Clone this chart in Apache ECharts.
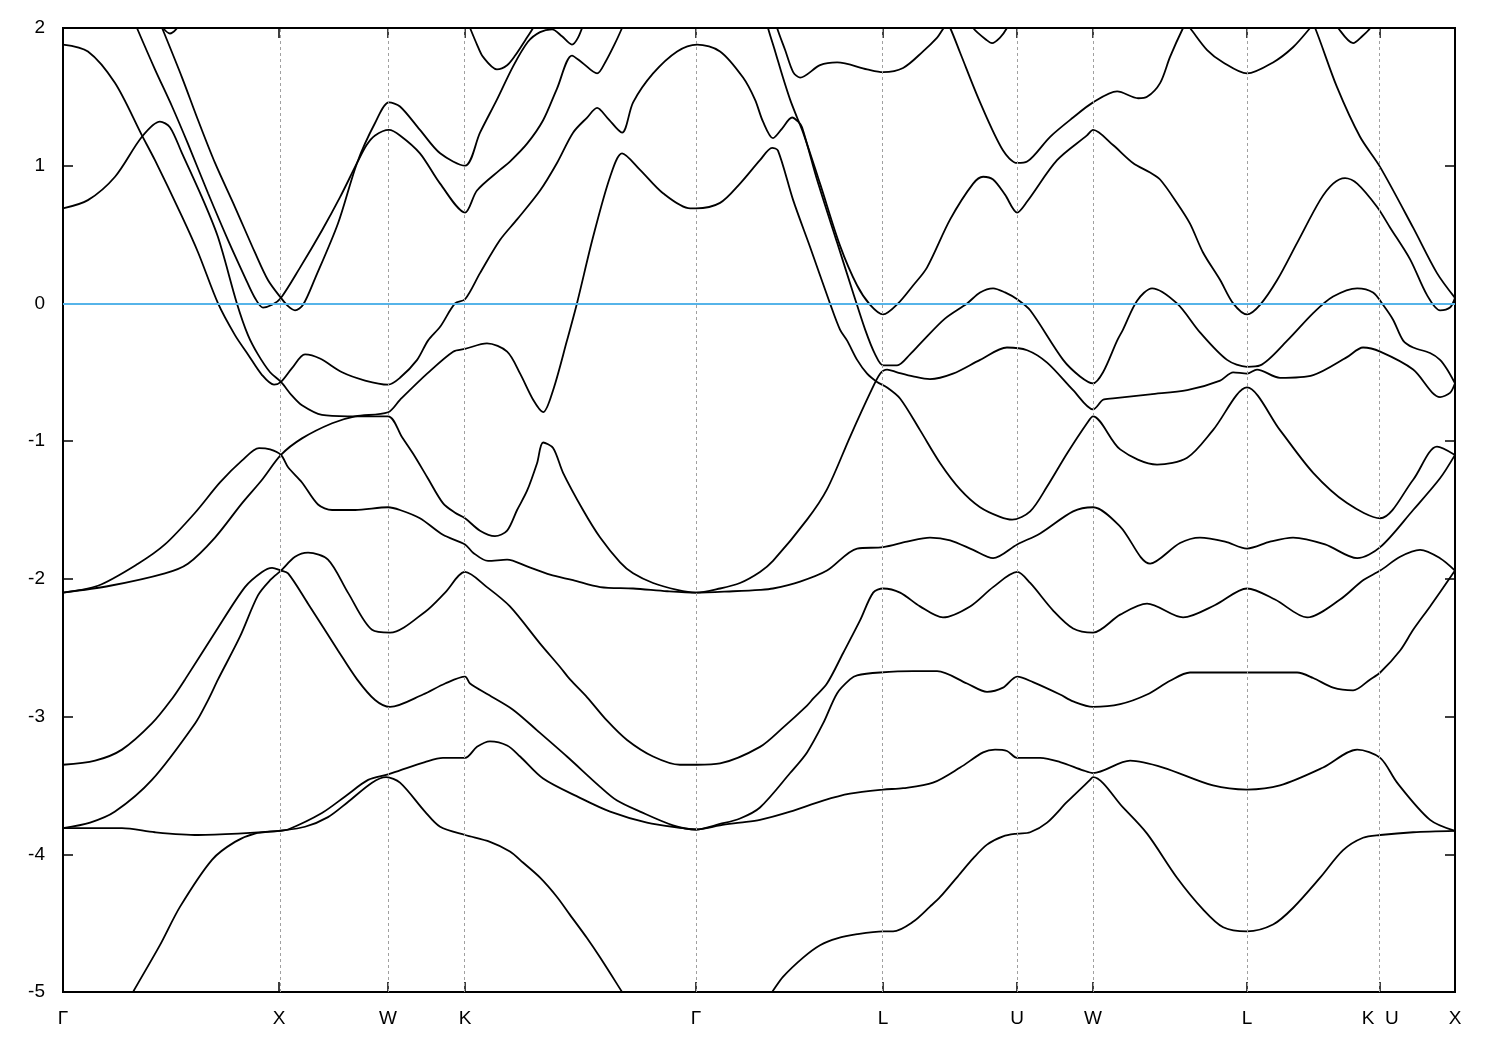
<!DOCTYPE html>
<html>
<head>
<meta charset="utf-8">
<script src="https://cdn.jsdelivr.net/npm/echarts@6/dist/echarts.min.js"></script>
<style>html,body{margin:0;padding:0;background:#fff}#c{width:1500px;height:1050px}</style>
</head>
<body>
<div id="c"></div>
<script>
// High-symmetry points along the k-path (2π/a units) and their labels
const kTicks = [0, 0.996, 1.499, 1.854, 2.919, 3.782, 4.400, 4.750, 5.460, 6.074, 6.419];
const kLabels = ['Γ', 'X', 'W', 'K', 'Γ', 'L', 'U', 'W', 'L', 'K  U', 'X'];
const energyTicks = [2, 1, 0, -1, -2, -3, -4, -5];
const fermiLevel = 0;

// Band curves: [k, E (eV)]
const band1a = [[0.300,-5.07],[0.323,-5.00],[0.447,-4.66],[0.540,-4.38],[0.687,-4.04],[0.793,-3.91],[0.885,-3.85],[0.996,-3.83],[1.116,-3.80],[1.222,-3.73],[1.314,-3.62],[1.425,-3.48],[1.490,-3.44],[1.554,-3.48],[1.669,-3.69],[1.739,-3.80],[1.854,-3.86],[1.969,-3.91],[2.061,-3.98],[2.121,-4.06],[2.200,-4.17],[2.278,-4.31],[2.338,-4.44],[2.417,-4.61],[2.477,-4.75],[2.578,-5.00],[2.606,-5.07]];
const band1b = [[3.237,-5.07],[3.270,-5.00],[3.320,-4.89],[3.413,-4.75],[3.491,-4.66],[3.570,-4.61],[3.662,-4.58],[3.782,-4.56],[3.828,-4.56],[3.920,-4.49],[3.998,-4.38],[4.045,-4.31],[4.137,-4.14],[4.197,-4.03],[4.261,-3.93],[4.335,-3.87],[4.400,-3.85],[4.460,-3.84],[4.538,-3.77],[4.630,-3.62],[4.736,-3.46],[4.750,-3.44],[4.888,-3.66],[4.999,-3.85],[5.137,-4.17],[5.257,-4.40],[5.350,-4.53],[5.460,-4.56],[5.580,-4.51],[5.672,-4.39],[5.797,-4.17],[5.903,-3.97],[5.995,-3.88],[6.074,-3.86],[6.226,-3.84],[6.419,-3.83]];
const band2 = [[0,-3.81],[0.171,-3.81],[0.272,-3.81],[0.424,-3.84],[0.623,-3.86],[0.807,-3.85],[0.996,-3.83],[1.038,-3.82],[1.194,-3.70],[1.301,-3.58],[1.407,-3.46],[1.499,-3.42],[1.554,-3.39],[1.669,-3.33],[1.752,-3.30],[1.854,-3.30],[1.909,-3.22],[1.969,-3.18],[2.048,-3.21],[2.108,-3.29],[2.214,-3.45],[2.384,-3.59],[2.523,-3.69],[2.693,-3.77],[2.859,-3.81],[2.919,-3.82],[3.030,-3.79],[3.122,-3.77],[3.214,-3.75],[3.353,-3.69],[3.505,-3.61],[3.629,-3.56],[3.782,-3.53],[3.874,-3.52],[4.012,-3.48],[4.137,-3.37],[4.243,-3.26],[4.298,-3.24],[4.353,-3.25],[4.400,-3.30],[4.506,-3.30],[4.598,-3.33],[4.704,-3.39],[4.750,-3.41],[4.921,-3.32],[5.073,-3.37],[5.303,-3.50],[5.460,-3.53],[5.612,-3.50],[5.811,-3.37],[5.968,-3.24],[6.074,-3.30],[6.152,-3.48],[6.304,-3.75],[6.419,-3.83]];
const band3 = [[0,-3.81],[0.125,-3.77],[0.240,-3.69],[0.410,-3.46],[0.609,-3.05],[0.669,-2.88],[0.715,-2.73],[0.816,-2.42],[0.899,-2.12],[0.955,-2.01],[1.005,-1.94],[1.070,-1.84],[1.130,-1.81],[1.222,-1.86],[1.314,-2.10],[1.425,-2.37],[1.508,-2.39],[1.669,-2.24],[1.762,-2.10],[1.854,-1.95],[1.955,-2.06],[2.061,-2.20],[2.200,-2.47],[2.292,-2.64],[2.338,-2.73],[2.417,-2.86],[2.509,-3.03],[2.601,-3.17],[2.721,-3.29],[2.845,-3.35],[2.924,-3.35],[3.030,-3.34],[3.214,-3.22],[3.320,-3.08],[3.431,-2.92],[3.459,-2.87],[3.523,-2.76],[3.597,-2.54],[3.676,-2.30],[3.736,-2.10],[3.782,-2.07],[3.860,-2.10],[3.952,-2.20],[4.058,-2.28],[4.183,-2.20],[4.289,-2.06],[4.400,-1.95],[4.460,-2.03],[4.566,-2.23],[4.658,-2.36],[4.750,-2.39],[4.875,-2.26],[4.999,-2.18],[5.165,-2.28],[5.313,-2.19],[5.460,-2.07],[5.589,-2.15],[5.737,-2.28],[5.889,-2.15],[5.995,-2.01],[6.074,-1.94],[6.166,-1.84],[6.258,-1.79],[6.350,-1.85],[6.419,-1.94]];
const band4 = [[0,-3.35],[0.148,-3.32],[0.272,-3.24],[0.410,-3.05],[0.503,-2.87],[0.563,-2.73],[0.701,-2.39],[0.839,-2.06],[0.918,-1.95],[0.964,-1.92],[1.005,-1.94],[1.038,-1.96],[1.130,-2.18],[1.268,-2.52],[1.356,-2.73],[1.439,-2.88],[1.508,-2.93],[1.660,-2.84],[1.762,-2.76],[1.854,-2.71],[1.877,-2.76],[1.960,-2.84],[2.075,-2.95],[2.186,-3.10],[2.324,-3.29],[2.477,-3.51],[2.555,-3.61],[2.661,-3.69],[2.813,-3.79],[2.919,-3.82],[3.030,-3.78],[3.122,-3.74],[3.214,-3.66],[3.353,-3.41],[3.431,-3.26],[3.505,-3.05],[3.570,-2.83],[3.629,-2.73],[3.662,-2.70],[3.768,-2.68],[3.920,-2.67],[4.031,-2.67],[4.169,-2.76],[4.261,-2.82],[4.335,-2.79],[4.400,-2.71],[4.473,-2.75],[4.598,-2.84],[4.658,-2.89],[4.750,-2.93],[4.875,-2.91],[4.999,-2.84],[5.105,-2.74],[5.197,-2.68],[5.336,-2.68],[5.460,-2.68],[5.691,-2.68],[5.765,-2.72],[5.857,-2.79],[5.949,-2.81],[6.028,-2.73],[6.074,-2.68],[6.166,-2.52],[6.226,-2.37],[6.304,-2.20],[6.419,-1.94]];
const band5 = [[0,-2.10],[0.161,-2.05],[0.346,-1.89],[0.470,-1.75],[0.609,-1.52],[0.724,-1.30],[0.826,-1.14],[0.904,-1.05],[0.955,-1.06],[1.005,-1.10],[1.038,-1.19],[1.102,-1.30],[1.176,-1.46],[1.241,-1.50],[1.347,-1.50],[1.499,-1.48],[1.554,-1.50],[1.646,-1.56],[1.752,-1.68],[1.854,-1.75],[1.891,-1.81],[1.960,-1.87],[2.048,-1.86],[2.140,-1.91],[2.246,-1.97],[2.352,-2.01],[2.477,-2.06],[2.629,-2.07],[2.786,-2.09],[2.919,-2.10],[3.090,-2.09],[3.214,-2.08],[3.274,-2.07],[3.399,-2.02],[3.523,-1.94],[3.662,-1.78],[3.782,-1.77],[3.892,-1.73],[3.998,-1.70],[4.091,-1.72],[4.197,-1.79],[4.289,-1.85],[4.400,-1.75],[4.506,-1.67],[4.658,-1.51],[4.750,-1.48],[4.875,-1.62],[5.013,-1.89],[5.151,-1.74],[5.243,-1.70],[5.359,-1.73],[5.460,-1.78],[5.566,-1.73],[5.672,-1.70],[5.820,-1.75],[5.968,-1.85],[6.074,-1.77],[6.226,-1.50],[6.350,-1.27],[6.419,-1.10]];
const band6 = [[0,-2.10],[0.217,-2.05],[0.470,-1.96],[0.576,-1.89],[0.701,-1.70],[0.826,-1.45],[0.918,-1.28],[1.005,-1.10],[1.102,-0.98],[1.241,-0.87],[1.347,-0.82],[1.499,-0.79],[1.554,-0.70],[1.679,-0.51],[1.799,-0.35],[1.854,-0.33],[1.955,-0.29],[2.048,-0.35],[2.108,-0.51],[2.168,-0.70],[2.214,-0.79],[2.260,-0.63],[2.324,-0.27],[2.370,0.00],[2.444,0.48],[2.523,0.92],[2.578,1.09],[2.661,0.97],[2.767,0.80],[2.892,0.69],[2.919,0.69],[3.030,0.73],[3.122,0.87],[3.214,1.04],[3.270,1.13],[3.297,1.11],[3.367,0.75],[3.445,0.41],[3.537,0.00],[3.583,-0.19],[3.616,-0.27],[3.662,-0.41],[3.708,-0.51],[3.754,-0.57],[3.800,-0.61],[3.860,-0.69],[3.952,-0.92],[4.045,-1.16],[4.137,-1.35],[4.229,-1.48],[4.321,-1.55],[4.377,-1.57],[4.460,-1.51],[4.538,-1.33],[4.630,-1.09],[4.722,-0.87],[4.750,-0.82],[4.875,-1.06],[5.045,-1.17],[5.184,-1.12],[5.303,-0.92],[5.460,-0.61],[5.612,-0.92],[5.765,-1.23],[5.921,-1.45],[6.074,-1.56],[6.226,-1.28],[6.336,-1.04],[6.419,-1.10]];
const band7 = [[0,0.69],[0.115,0.75],[0.240,0.92],[0.364,1.21],[0.447,1.32],[0.493,1.28],[0.549,1.09],[0.641,0.77],[0.715,0.48],[0.802,0.00],[0.853,-0.23],[0.899,-0.37],[0.955,-0.50],[1.005,-0.57],[1.056,-0.67],[1.102,-0.74],[1.194,-0.81],[1.314,-0.82],[1.499,-0.82],[1.563,-0.97],[1.614,-1.09],[1.679,-1.26],[1.752,-1.45],[1.808,-1.52],[1.854,-1.56],[1.923,-1.65],[1.992,-1.69],[2.048,-1.65],[2.094,-1.50],[2.140,-1.36],[2.186,-1.16],[2.214,-1.01],[2.260,-1.05],[2.306,-1.23],[2.398,-1.50],[2.477,-1.70],[2.569,-1.88],[2.629,-1.96],[2.721,-2.03],[2.832,-2.08],[2.919,-2.10],[3.030,-2.07],[3.122,-2.03],[3.214,-1.95],[3.274,-1.87],[3.431,-1.57],[3.523,-1.35],[3.629,-0.97],[3.722,-0.65],[3.768,-0.51],[3.800,-0.48],[3.846,-0.50],[3.920,-0.53],[3.998,-0.55],[4.104,-0.51],[4.229,-0.41],[4.353,-0.32],[4.446,-0.34],[4.538,-0.43],[4.658,-0.63],[4.750,-0.77],[4.796,-0.70],[4.842,-0.69],[5.013,-0.66],[5.184,-0.63],[5.336,-0.56],[5.396,-0.50],[5.460,-0.51],[5.506,-0.48],[5.612,-0.54],[5.765,-0.52],[5.921,-0.39],[5.995,-0.32],[6.074,-0.35],[6.226,-0.48],[6.350,-0.68],[6.396,-0.65],[6.419,-0.58]];
const band8 = [[0,1.88],[0.115,1.83],[0.240,1.60],[0.364,1.22],[0.424,1.04],[0.549,0.63],[0.623,0.37],[0.715,0.00],[0.793,-0.23],[0.853,-0.37],[0.918,-0.52],[0.973,-0.59],[1.005,-0.57],[1.056,-0.47],[1.116,-0.37],[1.185,-0.40],[1.287,-0.50],[1.393,-0.56],[1.499,-0.59],[1.554,-0.54],[1.633,-0.41],[1.683,-0.27],[1.739,-0.17],[1.808,0.00],[1.854,0.03],[1.923,0.22],[2.015,0.46],[2.094,0.61],[2.200,0.82],[2.278,1.02],[2.352,1.24],[2.417,1.35],[2.463,1.42],[2.509,1.35],[2.578,1.24],[2.629,1.46],[2.721,1.67],[2.832,1.83],[2.924,1.88],[3.030,1.83],[3.136,1.64],[3.191,1.48],[3.228,1.32],[3.274,1.20],[3.316,1.27],[3.362,1.35],[3.390,1.32],[3.408,1.28],[3.477,0.90],[3.570,0.44],[3.643,0.08],[3.699,-0.19],[3.745,-0.37],[3.782,-0.45],[3.846,-0.45],[3.906,-0.37],[3.966,-0.27],[4.067,-0.11],[4.169,0.00],[4.229,0.08],[4.289,0.11],[4.344,0.08],[4.400,0.03],[4.460,-0.05],[4.612,-0.41],[4.690,-0.53],[4.750,-0.58],[4.796,-0.50],[4.861,-0.27],[4.888,-0.19],[4.953,0.02],[5.022,0.11],[5.137,0.00],[5.243,-0.21],[5.368,-0.41],[5.460,-0.46],[5.520,-0.45],[5.645,-0.27],[5.765,-0.07],[5.857,0.05],[5.968,0.11],[6.041,0.08],[6.087,-0.01],[6.134,-0.12],[6.180,-0.27],[6.226,-0.32],[6.304,-0.36],[6.350,-0.41],[6.383,-0.48],[6.419,-0.58]];
const band9 = [[0.318,2.09],[0.341,2.00],[0.424,1.70],[0.503,1.43],[0.576,1.16],[0.669,0.80],[0.761,0.46],[0.839,0.19],[0.885,0.04],[0.922,-0.03],[0.964,-0.01],[1.005,0.04],[1.093,0.26],[1.194,0.53],[1.277,0.77],[1.356,1.02],[1.400,1.15],[1.439,1.22],[1.503,1.26],[1.554,1.22],[1.646,1.09],[1.739,0.87],[1.854,0.66],[1.909,0.82],[2.015,0.97],[2.061,1.03],[2.140,1.16],[2.214,1.33],[2.278,1.56],[2.347,1.80],[2.393,1.75],[2.463,1.67],[2.500,1.75],[2.546,1.89],[2.578,2.00],[2.596,2.07]];
const band10 = [[0.438,2.07],[0.457,2.00],[0.549,1.64],[0.623,1.33],[0.701,1.02],[0.793,0.70],[0.885,0.37],[0.945,0.17],[1.005,0.04],[1.038,-0.02],[1.070,-0.05],[1.107,-0.01],[1.162,0.18],[1.268,0.58],[1.356,1.02],[1.439,1.31],[1.503,1.46],[1.554,1.43],[1.646,1.26],[1.739,1.09],[1.854,1.00],[1.923,1.24],[2.001,1.48],[2.075,1.72],[2.144,1.90],[2.200,1.97],[2.255,1.99],[2.301,1.94],[2.347,1.88],[2.375,1.93],[2.407,2.06]];
const band11 = [[1.858,2.07],[1.877,2.00],[1.909,1.88],[1.937,1.79],[2.001,1.70],[2.048,1.73],[2.085,1.80],[2.131,1.91],[2.168,2.00],[2.191,2.07]];
const band12 = [[0.438,2.06],[0.461,2.00],[0.493,1.96],[0.521,1.99],[0.549,2.06]];
const band13 = [[3.242,2.07],[3.251,2.00],[3.284,1.83],[3.320,1.64],[3.353,1.48],[3.385,1.35],[3.413,1.24],[3.491,0.87],[3.583,0.42],[3.662,0.13],[3.722,-0.01],[3.782,-0.08],[3.851,0.00],[3.920,0.13],[3.984,0.26],[4.091,0.61],[4.197,0.87],[4.243,0.92],[4.289,0.90],[4.344,0.79],[4.400,0.66],[4.446,0.74],[4.584,1.04],[4.722,1.22],[4.750,1.26],[4.842,1.15],[4.934,1.02],[5.013,0.95],[5.059,0.90],[5.137,0.73],[5.197,0.58],[5.257,0.37],[5.336,0.17],[5.396,0.00],[5.460,-0.08],[5.520,-0.01],[5.599,0.17],[5.691,0.44],[5.797,0.75],[5.857,0.87],[5.912,0.91],[5.968,0.87],[6.060,0.70],[6.120,0.55],[6.212,0.32],[6.290,0.06],[6.350,-0.05],[6.396,-0.03],[6.419,0.04]];
const band14 = [[3.284,2.07],[3.293,2.00],[3.330,1.84],[3.367,1.68],[3.399,1.64],[3.491,1.73],[3.570,1.75],[3.708,1.70],[3.782,1.68],[3.874,1.71],[3.966,1.83],[4.031,1.93],[4.077,2.02],[4.091,2.00],[4.137,1.82],[4.229,1.46],[4.335,1.11],[4.400,1.02],[4.446,1.03],[4.552,1.21],[4.658,1.35],[4.750,1.46],[4.861,1.54],[4.958,1.49],[4.999,1.50],[5.059,1.60],[5.105,1.79],[5.165,2.00],[5.179,2.03],[5.197,2.00],[5.276,1.84],[5.350,1.75],[5.460,1.67],[5.580,1.75],[5.672,1.86],[5.751,2.00],[5.760,2.02],[5.774,2.00],[5.875,1.57],[5.981,1.21],[6.074,0.99],[6.226,0.55],[6.336,0.22],[6.419,0.04]];
const band15 = [[4.183,2.07],[4.197,2.00],[4.261,1.91],[4.284,1.89],[4.321,1.93],[4.353,2.00],[4.372,2.07]];
const band16 = [[5.857,2.07],[5.880,2.00],[5.949,1.89],[5.991,1.94],[6.028,2.00],[6.046,2.07]];

const bands = [band1a, band1b, band2, band3, band4, band5, band6, band7, band8, band9, band10, band11, band12, band13, band14, band15, band16];

const chart = echarts.init(document.getElementById('c'), null, {renderer: 'canvas'});
const FONT = "'Liberation Sans', Arial, Helvetica, sans-serif";

function labelFor(v) {
  for (let i = 0; i < kTicks.length; i++) if (Math.abs(kTicks[i] - v) < 1e-6) return kLabels[i];
  return '';
}

const series = bands.map((b) => ({
  type: 'line', data: b, symbol: 'none', smooth: 0.3, clip: true,
  lineStyle: {color: '#000', width: 1.8}, z: 3, silent: true, animation: false
}));

// dashed vertical lines at high-symmetry points and the Fermi level
series.push({
  type: 'line', data: [], symbol: 'none', silent: true, z: 1,
  markLine: {
    silent: true, symbol: 'none', animation: false, label: {show: false},
    lineStyle: {color: '#a0a0a0', width: 1, type: [3, 3]},
    data: kTicks.slice(1, -1).map(v => ({xAxis: v}))
  }
});
series.push({
  type: 'line', data: [], symbol: 'none', silent: true, z: 5,
  markLine: {
    silent: true, symbol: 'none', animation: false, label: {show: false},
    lineStyle: {color: '#56b4e9', width: 2, type: 'solid'},
    data: [{yAxis: fermiLevel}]
  }
});

const tickStyle = {show: true, inside: true, length: 10, lineStyle: {color: '#000', width: 1.5}};
const noLine = {show: false, onZero: false};

chart.setOption({
  animation: false,
  backgroundColor: '#fff',
  grid: {left: 63, top: 28, right: 45, bottom: 58, show: true, borderColor: '#000', borderWidth: 2, backgroundColor: 'transparent', containLabel: false},
  xAxis: [
    {type: 'value', min: 0, max: kTicks[kTicks.length - 1], position: 'bottom',
     axisLine: noLine, splitLine: {show: false},
     axisTick: Object.assign({customValues: kTicks}, tickStyle),
     axisLabel: {customValues: kTicks, formatter: labelFor, color: '#000', fontSize: 19, fontFamily: FONT, margin: 17}},
    {type: 'value', min: 0, max: kTicks[kTicks.length - 1], position: 'top',
     axisLine: noLine, splitLine: {show: false},
     axisTick: Object.assign({customValues: kTicks}, tickStyle),
     axisLabel: {show: false}}
  ],
  yAxis: [
    {type: 'value', min: -5, max: 2, interval: 1, position: 'left',
     axisLine: noLine, splitLine: {show: false},
     axisTick: tickStyle,
     axisLabel: {color: '#000', fontSize: 19, fontFamily: FONT, margin: 18}},
    {type: 'value', min: -5, max: 2, interval: 1, position: 'right',
     axisLine: noLine, splitLine: {show: false},
     axisTick: tickStyle, axisLabel: {show: false}}
  ],
  series: series
});
</script>
</body>
</html>
